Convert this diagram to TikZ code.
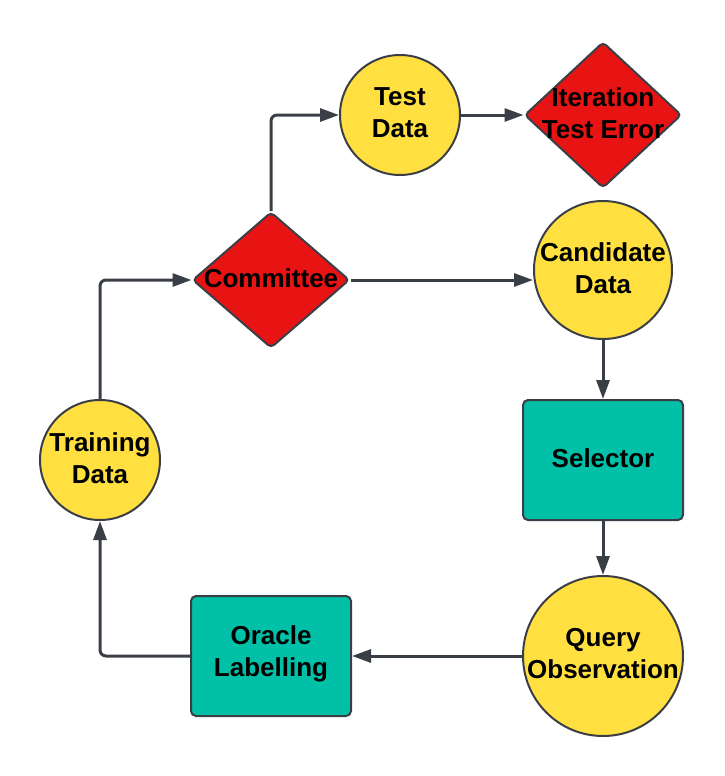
\documentclass[tikz,border=0pt]{standalone}
\usepackage{fontspec}
\setmainfont{Liberation Sans}
\usetikzlibrary{arrows.meta,shapes.geometric}
\definecolor{dotyellow}{HTML}{FFE040}
\definecolor{gatered}{HTML}{E81414}
\definecolor{boxteal}{HTML}{00C1A8}
\definecolor{edgegray}{HTML}{3A3F47}
\tikzset{
	shapeline/.style={draw=edgegray, line width=2pt},
	datadot/.style={shapeline, circle, fill=dotyellow, inner sep=0pt},
	gate/.style={shapeline, diamond, fill=gatered, inner sep=0pt, rounded corners=4pt},
	stepbox/.style={shapeline, rectangle, fill=boxteal, rounded corners=5pt, minimum width=160pt, minimum height=120pt},
	txt/.style={align=center, yshift=2pt, font=\fontsize{26}{32}\selectfont\bfseries},
	flow/.style={draw=edgegray, line width=3pt, rounded corners=6pt, -{Triangle[length=19pt,width=13pt]}}
}

\begin{document}
\begin{tikzpicture}[x=1pt, y=-1pt]
			%%%%% START %%%%%
			\useasboundingbox (0, 0) rectangle (724, 776);
			
			\node[datadot, minimum size=120pt] (test) at (400, 115) {};
			\node[txt] at (test) {Test\\Data};
			
			\node[gate, minimum width=157pt, minimum height=146pt] (err) at (603, 115) {};
			\node[txt] at (err) {Iteration\\Test Error};
			
			\node[gate, minimum width=157pt, minimum height=136pt] (com) at (271, 280) {};
			\node[txt] at (com) {Committee};
			
			\node[datadot, minimum size=138pt] (cand) at (603, 270) {};
			\node[txt] at (cand) {Candidate\\Data};
			
			\node[stepbox] (sel) at (603, 460) {};
			\node[txt] at (sel) {Selector};
			
			\node[datadot, minimum size=160pt] (query) at (603, 656) {};
			\node[txt] at (query) {Query\\Observation};
			
			\node[stepbox] (oracle) at (271, 656) {};
			\node[txt] at (oracle) {Oracle\\Labelling};
			
			\node[datadot, minimum size=120pt] (train) at (100, 460) {};
			\node[txt] at (train) {Training\\Data};
			
			\draw[flow] (com.north) |- (test.west);
			\draw[flow] (test.east) -- (err.west);
			\draw[flow] (com.east) -- (com.east -| cand.west);
			\draw[flow] (cand.south) -- (sel.north);
			\draw[flow] (sel.south) -- (query.north);
			\draw[flow] (query.west) -- (oracle.east);
			\draw[flow] (oracle.west) -| (train.south);
			\draw[flow] (train.north) |- (com.west);
			
			%%%%% END %%%%%
		\end{tikzpicture}
\end{document}
